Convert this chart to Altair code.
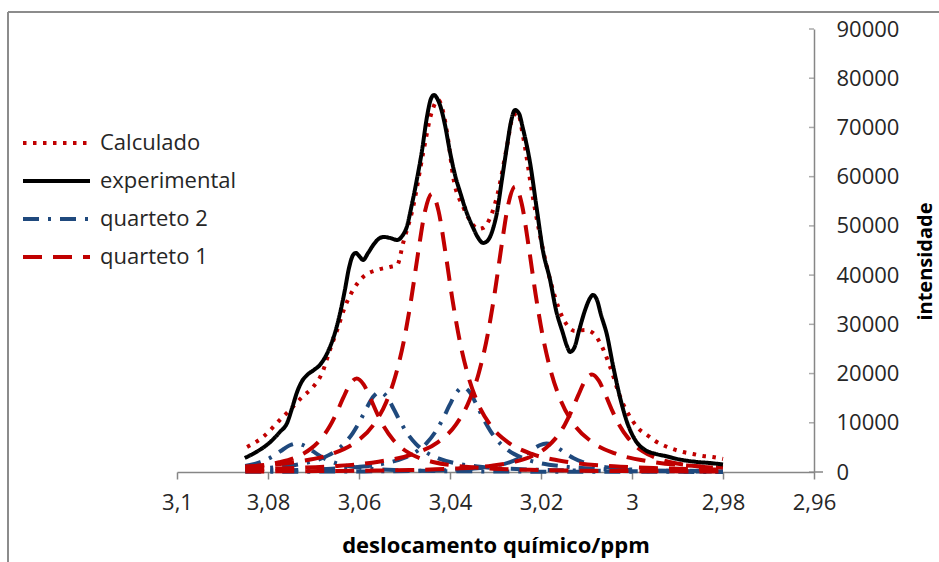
import altair as alt
import pandas as pd

# ---------------- data ----------------
series_names = ["Calculado", "experimental", "quarteto 2", "quarteto 1"]
x_ticks = [3.1, 3.08, 3.06, 3.04, 3.02, 3.0, 2.98, 2.96]
y_ticks = [0, 10000, 20000, 30000, 40000, 50000, 60000, 70000, 80000, 90000]

exp_ppm = [
    3.0851, 3.0826, 3.0800, 3.0774, 3.0758, 3.0747, 3.0736, 3.0725, 3.0714, 3.0699,
    3.0686, 3.0673, 3.0662, 3.0651, 3.0640, 3.0631, 3.0622, 3.0613, 3.0607, 3.0598,
    3.0591, 3.0580, 3.0567, 3.0554, 3.0545, 3.0532, 3.0516, 3.0505, 3.0495, 3.0484,
    3.0473, 3.0462, 3.0451, 3.0442, 3.0435, 3.0429, 3.0420, 3.0411, 3.0400, 3.0389,
    3.0378, 3.0363, 3.0349, 3.0338, 3.0327, 3.0316, 3.0305, 3.0297, 3.0286, 3.0275,
    3.0266, 3.0257, 3.0248, 3.0240, 3.0224, 3.0209, 3.0196, 3.0180, 3.0167, 3.0152,
    3.0143, 3.0136, 3.0127, 3.0116, 3.0103, 3.0092, 3.0086, 3.0077, 3.0068, 3.0055,
    3.0042, 3.0026, 3.0011, 2.9993, 2.9971, 2.9949, 2.9927, 2.9895, 2.9857, 2.9829,
    2.9800]
exp_int = [
    2850, 4060, 5690, 8130, 9960, 13000, 16260, 18490, 19710, 20730,
    21740, 23570, 25810, 28850, 32920, 36980, 41450, 44090, 44500, 43690,
    43080, 44500, 46330, 47550, 47750, 47550, 47140, 47960, 49780, 54250,
    59330, 65020, 71930, 75790, 76600, 76000, 73960, 70510, 65020, 60350,
    56900, 52630, 49580, 47550, 46530, 47140, 49580, 52630, 59330, 66040,
    71120, 73560, 72750, 69900, 62790, 53240, 45110, 39010, 32920, 28250,
    25600, 24380, 25200, 28850, 32920, 35360, 35970, 34950, 31900, 27840,
    21740, 15040, 10160, 6500, 4470, 3700, 3250, 2540, 2040, 1830,
    1530]

calc_ppm = [
    3.0846, 3.0811, 3.0774, 3.0752, 3.0725, 3.0701, 3.0681, 3.0664, 3.0648, 3.0631,
    3.0613, 3.0591, 3.0560, 3.0532, 3.0516, 3.0503, 3.0481, 3.0459, 3.0440, 3.0426,
    3.0415, 3.0404, 3.0393, 3.0371, 3.0349, 3.0338, 3.0327, 3.0312, 3.0297, 3.0275,
    3.0262, 3.0251, 3.0240, 3.0218, 3.0187, 3.0152, 3.0125, 3.0103, 3.0086, 3.0070,
    3.0048, 3.0026, 3.0000, 2.9987, 2.9967, 2.9949, 2.9932, 2.9910, 2.9888, 2.9866,
    2.9844, 2.9822, 2.9800]
calc_int = [
    5080, 7110, 10570, 12600, 15240, 17270, 20120, 24790, 28850, 33530,
    36980, 39620, 41050, 41660, 42060, 46530, 53850, 64820, 73150, 75590,
    73150, 67460, 59940, 53850, 50190, 49380, 49580, 51610, 55880, 66040,
    72140, 72950, 68480, 55880, 41660, 31290, 28650, 28850, 28250, 26210,
    21340, 15240, 10570, 8940, 7520, 6300, 5490, 4670, 4060, 3660,
    3250, 3050, 2640]

# quarteto 1 (four lines)
q1a_ppm = [3.085, 3.0825, 3.0775, 3.0735, 3.0705, 3.0685, 3.0665, 3.065, 3.0635, 3.062,
           3.0605, 3.059, 3.0575, 3.056, 3.0545, 3.0525, 3.0505, 3.0475, 3.0435, 3.0385,
           3.0305, 3.0205, 3.0105, 3.0005, 2.9905, 2.98]
q1a_int = [1010, 1240, 1980, 3150, 4790, 6560, 9180, 11860, 14990, 17800,
           19000, 17800, 14990, 11860, 9180, 6560, 4790, 3150, 1980, 1240,
           680, 390, 250, 180, 130, 100]
q1b_ppm = [3.085, 3.074, 3.066, 3.061, 3.057, 3.054, 3.052, 3.05, 3.0485, 3.047,
           3.0455, 3.044, 3.0425, 3.041, 3.0395, 3.038, 3.036, 3.034, 3.031, 3.027,
           3.022, 3.014, 3.004, 2.994, 2.984, 2.98]
q1b_int = [1110, 2030, 3670, 5880, 9380, 14240, 19490, 27290, 35260, 44580,
           52940, 56500, 52940, 44580, 35260, 27290, 19490, 14240, 9380, 5880,
           3670, 2030, 1160, 750, 530, 460]
q1c_ppm = [3.085, 3.0757, 3.0657, 3.0557, 3.0477, 3.0427, 3.0387, 3.0357, 3.0337, 3.0317,
           3.0302, 3.0287, 3.0272, 3.0257, 3.0242, 3.0227, 3.0212, 3.0197, 3.0177, 3.0157,
           3.0127, 3.0087, 3.0037, 2.9957, 2.9857, 2.98]
q1c_int = [550, 770, 1190, 2090, 3770, 6030, 9630, 14620, 20010, 28010,
           36190, 45760, 54350, 58000, 54350, 45760, 36190, 28010, 20010, 14620,
           9630, 6030, 3770, 2090, 1190, 920]
q1d_ppm = [3.085, 3.0788, 3.0688, 3.0588, 3.0488, 3.0388, 3.0308, 3.0258, 3.0218, 3.0188,
           3.0168, 3.0148, 3.0133, 3.0118, 3.0103, 3.0088, 3.0073, 3.0058, 3.0043, 3.0028,
           3.0008, 2.9988, 2.9958, 2.9918, 2.9868, 2.98]
q1d_int = [110, 135, 180, 260, 410, 710, 1290, 2060, 3290, 4990,
           6830, 9560, 12360, 15620, 18550, 19800, 18550, 15620, 12360, 9560,
           6830, 4990, 3290, 2060, 1290, 770]

# quarteto 2 (four lines)
q2a_ppm = [3.085, 3.0827, 3.0817, 3.0797, 3.0782, 3.0767, 3.0752, 3.0737, 3.0722, 3.0707,
           3.0692, 3.0677, 3.0657, 3.0637, 3.0607, 3.0567, 3.0517, 3.0437, 3.0337, 3.0237,
           3.0137, 3.0037, 2.9937, 2.9837, 2.98]
q2a_int = [1210, 1700, 2000, 2800, 3620, 4580, 5430, 5800, 5430, 4580,
           3620, 2800, 2000, 1460, 960, 600, 380, 210, 120, 77,
           54, 39, 30, 24, 22]
q2b_ppm = [3.085, 3.0774, 3.0724, 3.0684, 3.0654, 3.0634, 3.0614, 3.0599, 3.0584, 3.0569,
           3.0554, 3.0539, 3.0524, 3.0509, 3.0494, 3.0474, 3.0454, 3.0424, 3.0384, 3.0334,
           3.0254, 3.0154, 3.0054, 2.9954, 2.9854, 2.98]
q2b_int = [560, 1060, 1700, 2710, 4110, 5620, 7870, 10170, 12860, 15270,
           16300, 15270, 12860, 10170, 7870, 5620, 4110, 2710, 1700, 1060,
           590, 340, 220, 150, 110, 96]
q2c_ppm = [3.085, 3.0771, 3.0671, 3.0591, 3.0541, 3.0501, 3.0471, 3.0451, 3.0431, 3.0416,
           3.0401, 3.0386, 3.0371, 3.0356, 3.0341, 3.0326, 3.0311, 3.0291, 3.0271, 3.0241,
           3.0201, 3.0151, 3.0071, 2.9971, 2.9871, 2.98]
q2c_int = [250, 350, 620, 1120, 1790, 2860, 4330, 5930, 8310, 10730,
           13570, 16120, 17200, 16120, 13570, 10730, 8310, 5930, 4330, 2860,
           1790, 1120, 620, 350, 230, 175]
q2d_ppm = [3.085, 3.0788, 3.0688, 3.0588, 3.0488, 3.0408, 3.0358, 3.0318, 3.0288, 3.0268,
           3.0248, 3.0233, 3.0218, 3.0203, 3.0188, 3.0173, 3.0158, 3.0143, 3.0128, 3.0108,
           3.0088, 3.0058, 3.0018, 2.9968, 2.9888, 2.98]
q2d_int = [43, 54, 77, 120, 210, 380, 600, 960, 1460, 2000,
           2800, 3620, 4580, 5430, 5800, 5430, 4580, 3620, 2800, 2000,
           1460, 960, 600, 380, 210, 127]

# ---------------- table ----------------
rows = []


def add(serie, comp, xs, ys):
    for a, b in zip(xs, ys):
        rows.append({"serie": serie, "comp": comp, "ppm": a, "int": b})


add("quarteto 2", "q2a", q2a_ppm, q2a_int)
add("quarteto 2", "q2b", q2b_ppm, q2b_int)
add("quarteto 2", "q2c", q2c_ppm, q2c_int)
add("quarteto 2", "q2d", q2d_ppm, q2d_int)
add("quarteto 1", "q1a", q1a_ppm, q1a_int)
add("quarteto 1", "q1b", q1b_ppm, q1b_int)
add("quarteto 1", "q1c", q1c_ppm, q1c_int)
add("quarteto 1", "q1d", q1d_ppm, q1d_int)
add("Calculado", "calc", calc_ppm, calc_int)
add("experimental", "exp", exp_ppm, exp_int)
df = pd.DataFrame(rows)

# ---------------- styling ----------------
W, H = 637, 443
FONT = "Open Sans"
TXT = "#262626"
AX = "#868686"

x_scale = alt.Scale(domain=[2.96, 3.1], reverse=True, nice=False, zero=False)
y_scale = alt.Scale(domain=[0, 90000], nice=False)

color_scale = alt.Scale(domain=series_names,
                        range=["#C00000", "#000000", "#1F497D", "#C00000"])
dash_scale = alt.Scale(domain=series_names,
                       range=[[3.5, 6.5], [1, 0], [16, 9, 3, 9], [19, 11]])

legend = alt.Legend(
    title=None, orient="none", legendX=-156, legendY=95,
    symbolType="stroke", symbolSize=4489, symbolStrokeWidth=4,
    clipHeight=38, rowPadding=0, labelOffset=8, padding=0,
    labelFont=FONT, labelFontSize=22, labelColor=TXT,
)

x_axis = alt.Axis(
    values=x_ticks,
    labelExpr="replace(format(datum.value, '.2~f'), '.', ',')",
    labelFlush=False, labelOverlap=False,
    title="deslocamento químico/ppm", grid=False,
    tickSize=7, tickColor=AX, tickWidth=1.5, domainColor=AX, domainWidth=1.5,
    labelFont=FONT, labelFontSize=22, labelColor=TXT, labelPadding=13,
    titleFont=FONT, titleFontSize=22, titleFontWeight="bold", titleColor="#000000",
    titleBaseline="alphabetic", titleAlign="center", titleX=W / 2, titleY=80,
)
y_axis = alt.Axis(
    orient="right", values=y_ticks, format="d", ticks=False, grid=False,
    labelFlush=False, labelOverlap=False,
    domainColor=AX, domainWidth=1.5, labelPadding=22, labelAlign="left",
    labelFont=FONT, labelFontSize=22, labelColor=TXT,
    title="intensidade", titleAngle=270, titleX=117, titleY=232,
    titleAlign="center", titleBaseline="alphabetic",
    titleFont=FONT, titleFontSize=20, titleFontWeight="bold", titleColor="#000000",
)

base = alt.Chart(df).mark_line(
    strokeWidth=4, interpolate="monotone", strokeJoin="round"
).encode(
    x=alt.X("ppm:Q", scale=x_scale, axis=x_axis),
    y=alt.Y("int:Q", scale=y_scale, axis=y_axis),
    color=alt.Color("serie:N", scale=color_scale, legend=legend),
    strokeDash=alt.StrokeDash("serie:N", scale=dash_scale, legend=legend),
    detail="comp:N",
)

layers = [base.transform_filter(alt.datum.serie == name)
          for name in ["quarteto 2", "quarteto 1", "Calculado", "experimental"]]

# inward tick marks of the right-hand axis
ticks = alt.Chart(pd.DataFrame({"int": y_ticks})).mark_tick(
    orient="horizontal", size=5, thickness=1.5, color=AX
).encode(
    y=alt.Y("int:Q", scale=y_scale, axis=y_axis),
    x=alt.value(W - 2.5),
)

# x-axis line continues a little past the right-hand axis
axis_ext = alt.Chart(pd.DataFrame({"k": [0]})).mark_rule(color=AX, strokeWidth=1.5).encode(
    x=alt.value(W), x2=alt.value(W + 9), y=alt.value(H))

# chart-area frame (top and left edges visible)
one = pd.DataFrame({"k": [0]})
frame_top = alt.Chart(one).mark_rule(color="#8c8c8c", strokeWidth=2).encode(
    x=alt.value(-169), x2=alt.value(800), y=alt.value(-17))
frame_left = alt.Chart(one).mark_rule(color="#8c8c8c", strokeWidth=2).encode(
    x=alt.value(-169), y=alt.value(-17), y2=alt.value(560))

chart = alt.layer(frame_top, frame_left, axis_ext, ticks, *layers).properties(
    width=W, height=H,
    autosize=alt.AutoSizeParams(type="none"),
    padding={"left": 177, "top": 29, "right": 125, "bottom": 90},
    background="white",
).configure_view(stroke=None)

chart.save("out.html", embed_options={"renderer": "svg", "actions": False})
